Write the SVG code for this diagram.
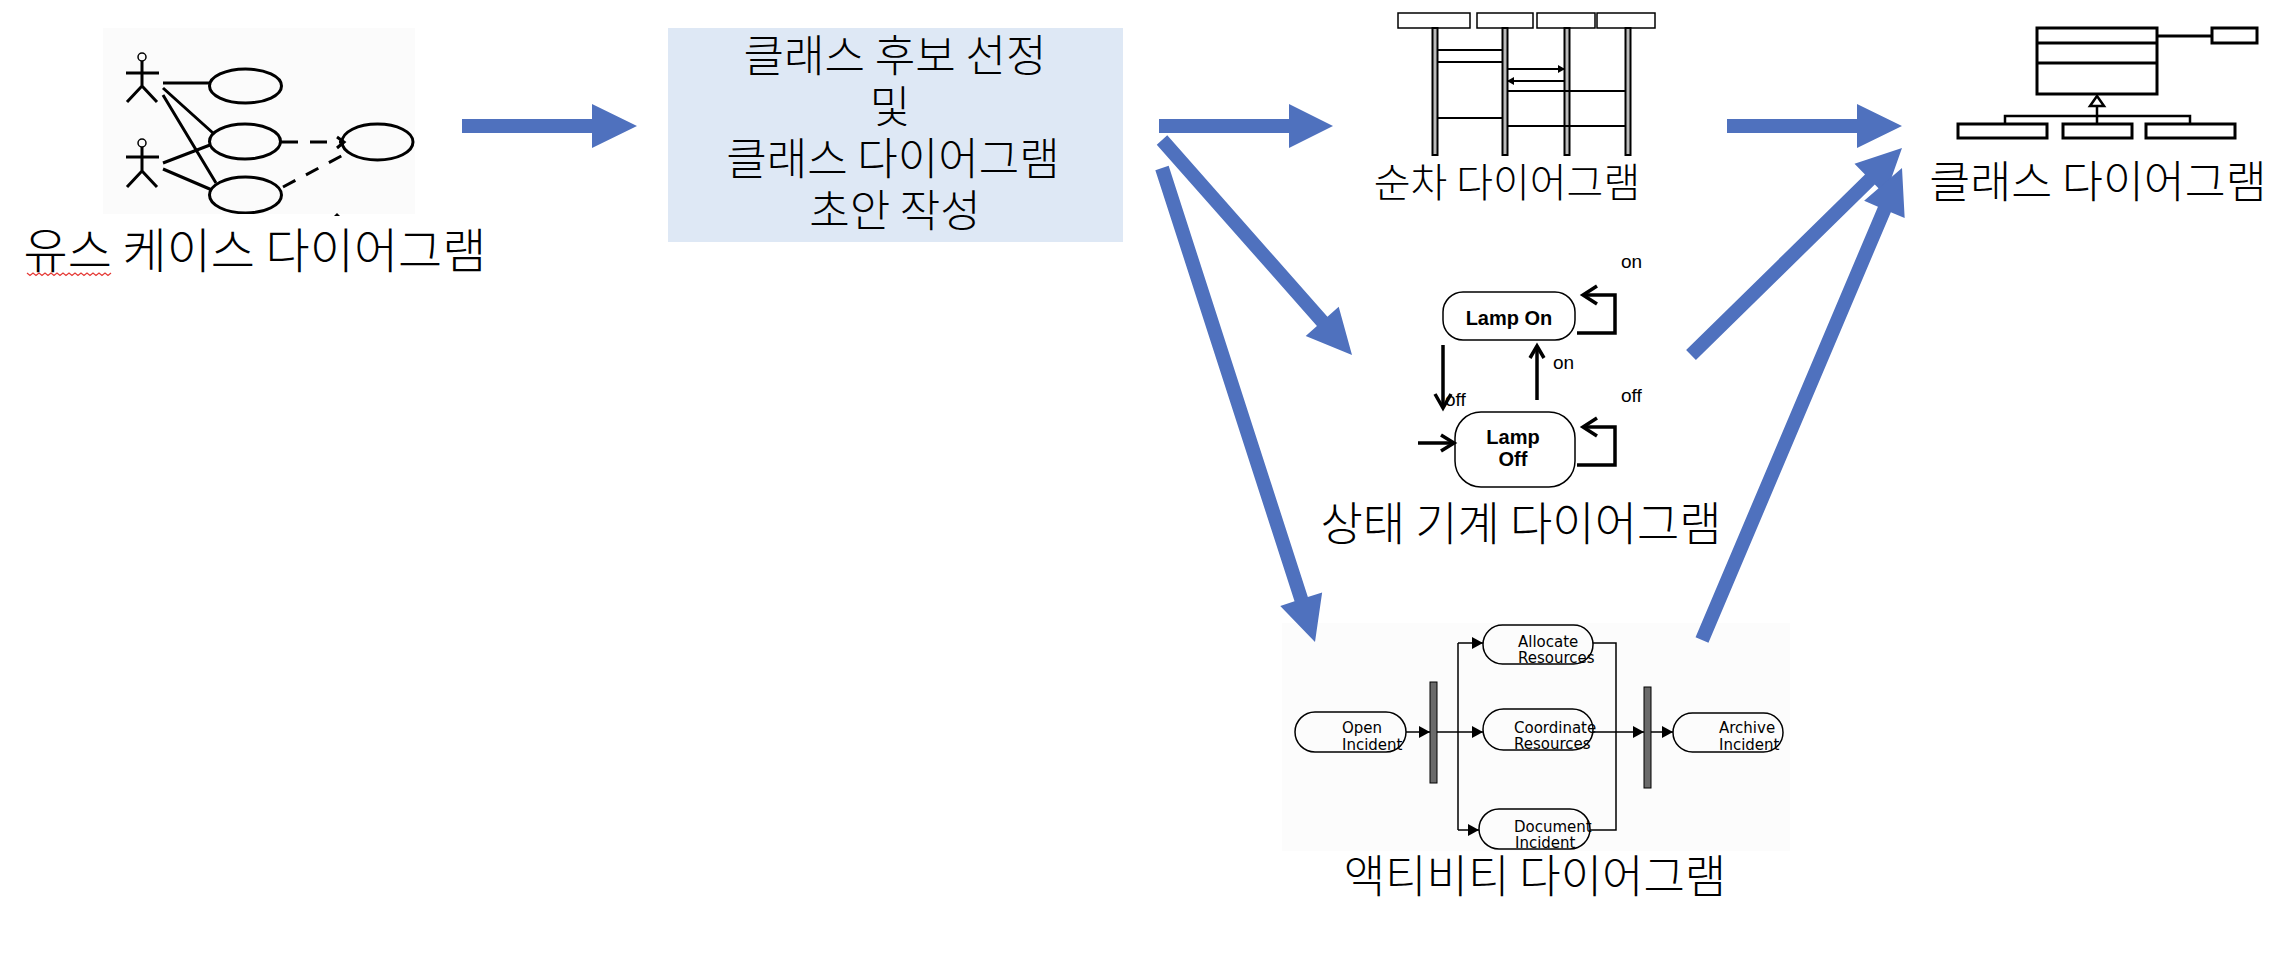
<svg xmlns="http://www.w3.org/2000/svg" width="2292" height="956" viewBox="0 0 2292 956">
<defs>
<style>
.ln{stroke:#000;fill:none;stroke-width:3}
.thin{stroke:#000;fill:none;stroke-width:1.5}
.ko{font-family:"Noto Sans CJK KR","Noto Sans CJK SC",sans-serif;font-weight:300;fill:#000;text-anchor:middle}
.arr{fill:#4F71BE}
.en{font-family:"DejaVu Sans",sans-serif;fill:#000;font-size:15px}
.lb{font-family:"Liberation Sans",Arial,sans-serif;font-weight:bold;font-size:20px;fill:#000;text-anchor:middle}
.lr{font-family:"Liberation Sans",Arial,sans-serif;font-size:19px;fill:#000}
.sl{stroke:#000;fill:none;stroke-width:3.5;stroke-linejoin:miter}
.bar{fill:#6a6a6a;stroke:#000;stroke-width:1}
.life{fill:#bbb;stroke:#000;stroke-width:2}
</style>
<marker id="ah" markerUnits="userSpaceOnUse" markerWidth="12" markerHeight="12" refX="11" refY="6" orient="auto">
<path d="M0,0 L11,6 L0,12 z" fill="#000"/>
</marker>
<marker id="sa" markerUnits="userSpaceOnUse" markerWidth="8" markerHeight="8" refX="7" refY="4" orient="auto">
<path d="M0,0 L7,4 L0,8 z" fill="#000"/>
</marker>
</defs>
<rect width="2292" height="956" fill="#fff"/>

<g id="usecase">
<rect x="103" y="28" width="312" height="186" fill="#fbfbfb"/>
<circle cx="142" cy="57" r="4" class="thin" stroke-width="2"/>
<path class="ln" d="M126,73 H159 M142,61 V86 L127,102 M142,86 L157,102"/>
<circle cx="142" cy="143" r="4" class="thin" stroke-width="2"/>
<path class="ln" d="M126,157 H159 M142,147 V171 L127,187 M142,171 L157,187"/>
<ellipse cx="245.5" cy="86" rx="36" ry="17" class="ln"/>
<ellipse cx="245" cy="141.5" rx="35.5" ry="17.5" class="ln"/>
<ellipse cx="245.5" cy="195" rx="36" ry="18" class="ln"/>
<ellipse cx="377.5" cy="142" rx="35.5" ry="18" class="ln"/>
<path class="ln" d="M163,83 H210 M163,88 L213,133 M163,95 L216,183 M163,163 L210,145 M163,169 L212,190"/>
<path class="ln" d="M281,142 H342" stroke-dasharray="17,12"/>
<path class="ln" d="M283,187 L347,153" stroke-dasharray="14,12"/>
<path class="ln" d="M337,137 L344,142 L337,148"/>
<rect x="103" y="214" width="312" height="4" fill="#fff"/>
<path d="M334,216 l3,-3 l3,3" fill="#000"/>
<text class="ko" x="255" y="268" font-size="48">유스 케이스 다이어그램</text>
<path d="M27,273 l3,2.5 l3,-2.5 l3,2.5 l3,-2.5 l3,2.5 l3,-2.5 l3,2.5 l3,-2.5 l3,2.5 l3,-2.5 l3,2.5 l3,-2.5 l3,2.5 l3,-2.5 l3,2.5 l3,-2.5 l3,2.5 l3,-2.5 l3,2.5 l3,-2.5 l3,2.5 l3,-2.5 l3,2.5 l3,-2.5 l3,2.5 l3,-2.5 l3,2.5 l3,-2.5" fill="none" stroke="#e53935" stroke-width="1.2"/>
</g>

<g id="candidates">
<rect x="668" y="28" width="455" height="214" fill="#DEE8F5"/>
<text class="ko" x="895" y="72" font-size="44">클래스 후보 선정</text>
<text class="ko" x="890" y="123" font-size="44">및</text>
<text class="ko" x="893" y="175" font-size="44">클래스 다이어그램</text>
<text class="ko" x="895" y="227" font-size="44">초안 작성</text>
</g>

<g id="sequence">
<rect x="1398" y="13" width="72" height="15" class="thin" stroke-width="2"/>
<rect x="1477" y="13" width="56" height="15" class="thin" stroke-width="2"/>
<rect x="1537" y="13" width="58" height="15" class="thin" stroke-width="2"/>
<rect x="1597" y="13" width="58" height="15" class="thin" stroke-width="2"/>
<rect x="1432.5" y="28" width="5" height="127" class="life"/>
<rect x="1502.5" y="28" width="5" height="127" class="life"/>
<rect x="1564.5" y="28" width="5" height="127" class="life"/>
<rect x="1625.5" y="28" width="5" height="127" class="life"/>
<path d="M1437,50 H1503 M1437,62 H1503 M1507,91 H1626 M1437,118 H1503 M1507,126 H1626" stroke="#000" stroke-width="2" fill="none"/>
<path d="M1507,69 H1565" stroke="#000" stroke-width="2" fill="none" marker-end="url(#sa)"/>
<path d="M1565,81 H1507" stroke="#000" stroke-width="2" fill="none" marker-end="url(#sa)"/>
<text class="ko" x="1507" y="197" font-size="40">순차 다이어그램</text>
</g>

<g id="class">
<rect x="2037" y="28" width="120" height="66" class="ln"/>
<path class="ln" d="M2037,43 H2157 M2037,63 H2157 M2157,36 H2212"/>
<rect x="2212" y="28" width="45" height="15" class="ln"/>
<path d="M2097,96 L2104,106 L2090,106 z" fill="#fff" stroke="#000" stroke-width="2.5"/>
<path d="M2097,106 V124 M2005,124 V116 H2190 V124" fill="none" stroke="#000" stroke-width="2.5"/>
<rect x="1958" y="124" width="89" height="14" class="ln"/>
<rect x="2063" y="124" width="69" height="14" class="ln"/>
<rect x="2146" y="124" width="89" height="14" class="ln"/>
<text class="ko" x="2098" y="198" font-size="44.5">클래스 다이어그램</text>
</g>

<g id="state">
<rect x="1443" y="292" width="132" height="48" rx="20" class="thin"/>
<text class="lb" x="1509" y="325">Lamp On</text>
<polyline class="sl" points="1577,333 1615,333 1615,295 1583,295"/>
<polyline class="sl" points="1597,286 1583,295 1597,304"/>
<text class="lr" x="1621" y="268">on</text>
<line class="sl" x1="1443" y1="345" x2="1443" y2="407"/>
<polyline class="sl" points="1435,394 1443,408 1451,394"/>
<text class="lr" x="1445" y="406">off</text>
<line class="sl" x1="1537" y1="400" x2="1537" y2="347"/>
<polyline class="sl" points="1530,358 1537,346 1544,358"/>
<text class="lr" x="1553" y="369">on</text>
<rect x="1455" y="412" width="120" height="75" rx="26" class="thin"/>
<text class="lb" x="1513" y="444">Lamp</text>
<text class="lb" x="1513" y="466">Off</text>
<polyline class="sl" points="1577,465 1615,465 1615,427 1583,427"/>
<polyline class="sl" points="1597,418 1583,427 1597,436"/>
<text class="lr" x="1621" y="402">off</text>
<line class="sl" x1="1418" y1="443" x2="1452" y2="443"/>
<polyline class="sl" points="1441,435 1454,443 1441,451"/>
<text class="ko" x="1521" y="540" font-size="46">상태 기계 다이어그램</text>
</g>

<g id="activity">
<rect x="1282" y="623" width="508" height="228" fill="#fcfcfc"/>
<rect x="1295" y="712" width="111" height="40" rx="20" class="thin"/>
<text class="en" x="1342" y="733">Open</text>
<text class="en" x="1342" y="750">Incident</text>
<rect x="1430" y="682" width="7" height="101" class="bar"/>
<rect x="1483" y="625" width="110" height="39" rx="19.5" class="thin"/>
<text class="en" x="1518" y="647">Allocate</text>
<text class="en" x="1518" y="663">Resources</text>
<rect x="1483" y="709" width="110" height="41" rx="20.5" class="thin"/>
<text class="en" x="1514" y="733">Coordinate</text>
<text class="en" x="1514" y="749">Resources</text>
<rect x="1479" y="809" width="111" height="40" rx="20" class="thin"/>
<text class="en" x="1514" y="832">Document</text>
<text class="en" x="1515" y="848">Incident</text>
<rect x="1644" y="687" width="7" height="101" class="bar"/>
<rect x="1673" y="713" width="110" height="39" rx="19.5" class="thin"/>
<text class="en" x="1719" y="733">Archive</text>
<text class="en" x="1719" y="750">Incident</text>
<text class="ko" x="1535" y="893" font-size="45">액티비티 다이어그램</text>
</g>

<g id="connectors">
<g fill="none" stroke="#000" stroke-width="1.5">
<path d="M1406,732 H1430" marker-end="url(#ah)"/>
<path d="M1437,732 H1483" marker-end="url(#ah)"/>
<path d="M1458,643 V830"/>
<path d="M1458,643 H1483" marker-end="url(#ah)"/>
<path d="M1458,830 H1479" marker-end="url(#ah)"/>
<path d="M1593,643 H1616 V830 H1590"/>
<path d="M1593,732 H1644" marker-end="url(#ah)"/>
<path d="M1651,732 H1673" marker-end="url(#ah)"/>
</g>
<polygon class="arr" points="462,119 592,119 592,104 637,126 592,148 592,133 462,133"/>
<polygon class="arr" points="1159,119 1289,119 1289,104 1333,126 1289,148 1289,133 1159,133"/>
<polygon class="arr" points="1727,119 1857,119 1857,104 1902,126 1857,148 1857,133 1727,133"/>
<polygon class="arr" points="1156.75,144.64 1316.95,325.94 1305.7,335.9 1352,355 1338.7,306.7 1327.45,316.66 1167.25,135.36"/>
<polygon class="arr" points="1155.34,170.15 1294.54,601.35 1280.26,605.96 1315,642 1322.14,592.44 1307.86,597.05 1168.66,165.85"/>
<polygon class="arr" points="1695.9,360 1874.8,184.5 1885.3,195.2 1902,148 1854.5,163.8 1865,174.5 1686.1,350"/>
<polygon class="arr" points="1708.45,642.73 1890.85,212.13 1904.66,217.98 1902,168 1864.14,200.82 1877.95,206.67 1695.55,637.27"/>
</g>
</svg>
